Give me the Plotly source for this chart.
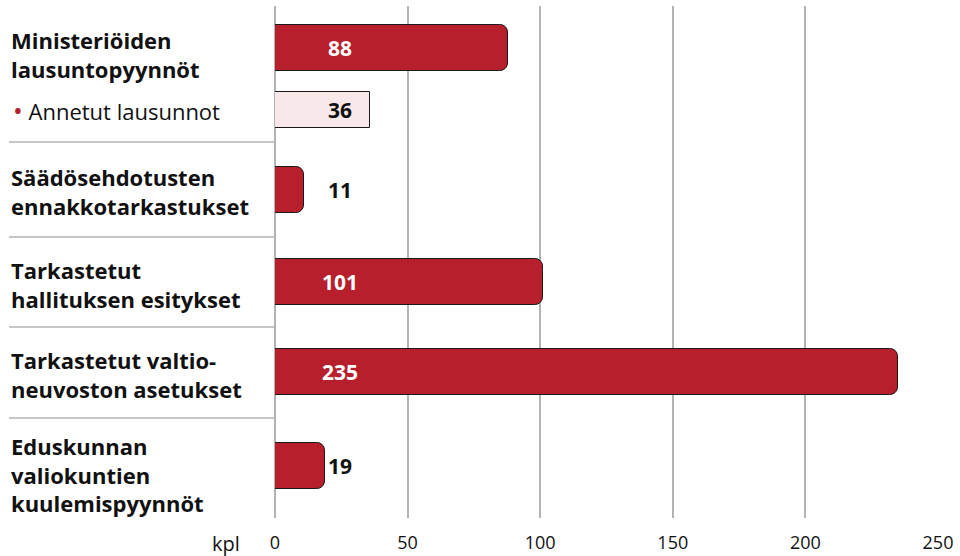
import plotly.graph_objects as go

# ---- data ----
categories = [
    "Ministeriöiden<br>lausuntopyynnöt",
    "Säädösehdotusten<br>ennakkotarkastukset",
    "Tarkastetut<br>hallituksen esitykset",
    "Tarkastetut valtio-<br>neuvoston asetukset",
    "Eduskunnan<br>valiokuntien<br>kuulemispyynnöt",
]
values = [88, 11, 101, 235, 19]
sub_category = "Annetut lausunnot"
sub_values = [36]
tick_values = [0, 50, 100, 150, 200, 250]
unit_label = "kpl"

# ---- layout constants (pixel rows) ----
W, H = 960, 556
L, R, T, B = 275, 22, 6, 38
main_rows = [48, 190, 282, 372, 466]
label_rows = [54, 191, 284, 374, 474]
sub_row = 109.5
separators = [142, 237, 327, 418]
RED = "#b71f2d"
PINK = "#f9e8ea"
FONT = "Open Sans"

plot_w = W - L - R
plot_h = H - T - B


def px_to_paper_x(px):
    return (px - L) / plot_w


def px_to_paper_y(py):
    return (H - B - py) / plot_h


fig = go.Figure()
fig.add_trace(go.Bar(
    x=values, y=main_rows, orientation="h", width=46,
    marker=dict(color=RED, line=dict(color="#1a1a1a", width=1), cornerradius=8),
    hoverinfo="x",
))
fig.add_trace(go.Bar(
    x=sub_values, y=[sub_row], orientation="h", width=36,
    marker=dict(color=PINK, line=dict(color="#1a1a1a", width=1)),
    hoverinfo="x",
))

annotations = []
label_x = 24.5
for v, yr in zip(values, main_rows):
    annotations.append(dict(
        x=label_x, y=yr, xref="x", yref="y", text=f"<b>{v}</b>", showarrow=False,
        font=dict(family=FONT, size=21, color="white" if v > 40 else "#111"),
    ))
for v in sub_values:
    annotations.append(dict(
        x=label_x, y=sub_row, xref="x", yref="y", text=f"<b>{v}</b>", showarrow=False,
        font=dict(family=FONT, size=21, color="#111"),
    ))
for c, yr in zip(categories, label_rows):
    annotations.append(dict(
        x=px_to_paper_x(9), y=yr, xref="paper", yref="y", xanchor="left", yanchor="middle",
        text=f"<b>{c}</b>", showarrow=False, align="left",
        font=dict(family=FONT, size=22, color="#111"),
    ))
annotations.append(dict(
    x=px_to_paper_x(11), y=sub_row, xref="paper", yref="y", xanchor="left", yanchor="middle",
    text=f"<span style='color:{RED};font-size:26px'>•</span> {sub_category}", showarrow=False,
    font=dict(family=FONT, size=22, color="#111"),
))
annotations.append(dict(
    x=px_to_paper_x(242), y=px_to_paper_y(543), xref="paper", yref="paper",
    xanchor="right", yanchor="middle",
    text=unit_label, showarrow=False, font=dict(family=FONT, size=20, color="#111"),
))

shapes = []
for s in separators:
    shapes.append(dict(type="line", xref="paper", yref="y",
                       x0=px_to_paper_x(9), x1=0, y0=s, y1=s,
                       line=dict(color="#b3b3b3", width=1.5)))

fig.update_layout(
    width=W, height=H,
    margin=dict(l=L, r=R, t=T, b=B, autoexpand=False),
    paper_bgcolor="white", plot_bgcolor="white",
    showlegend=False,
    bargap=0,
    barmode="overlay",
    annotations=annotations,
    shapes=shapes,
    xaxis=dict(
        range=[0, 250], tickvals=tick_values, showgrid=True, gridcolor="#b3b3b3", gridwidth=1.5,
        zeroline=True, zerolinecolor="#b3b3b3", zerolinewidth=1.5,
        ticks="", ticklabelstandoff=12, automargin=False,
        tickfont=dict(family=FONT, size=18, color="#111"),
        showline=False, fixedrange=True,
    ),
    yaxis=dict(range=[H - B, T], visible=False, fixedrange=True),
)

fig.write_html(
    "out.html",
    config={"displayModeBar": False},
    post_script="document.body.style.margin='0';document.body.style.overflow='hidden';",
)
